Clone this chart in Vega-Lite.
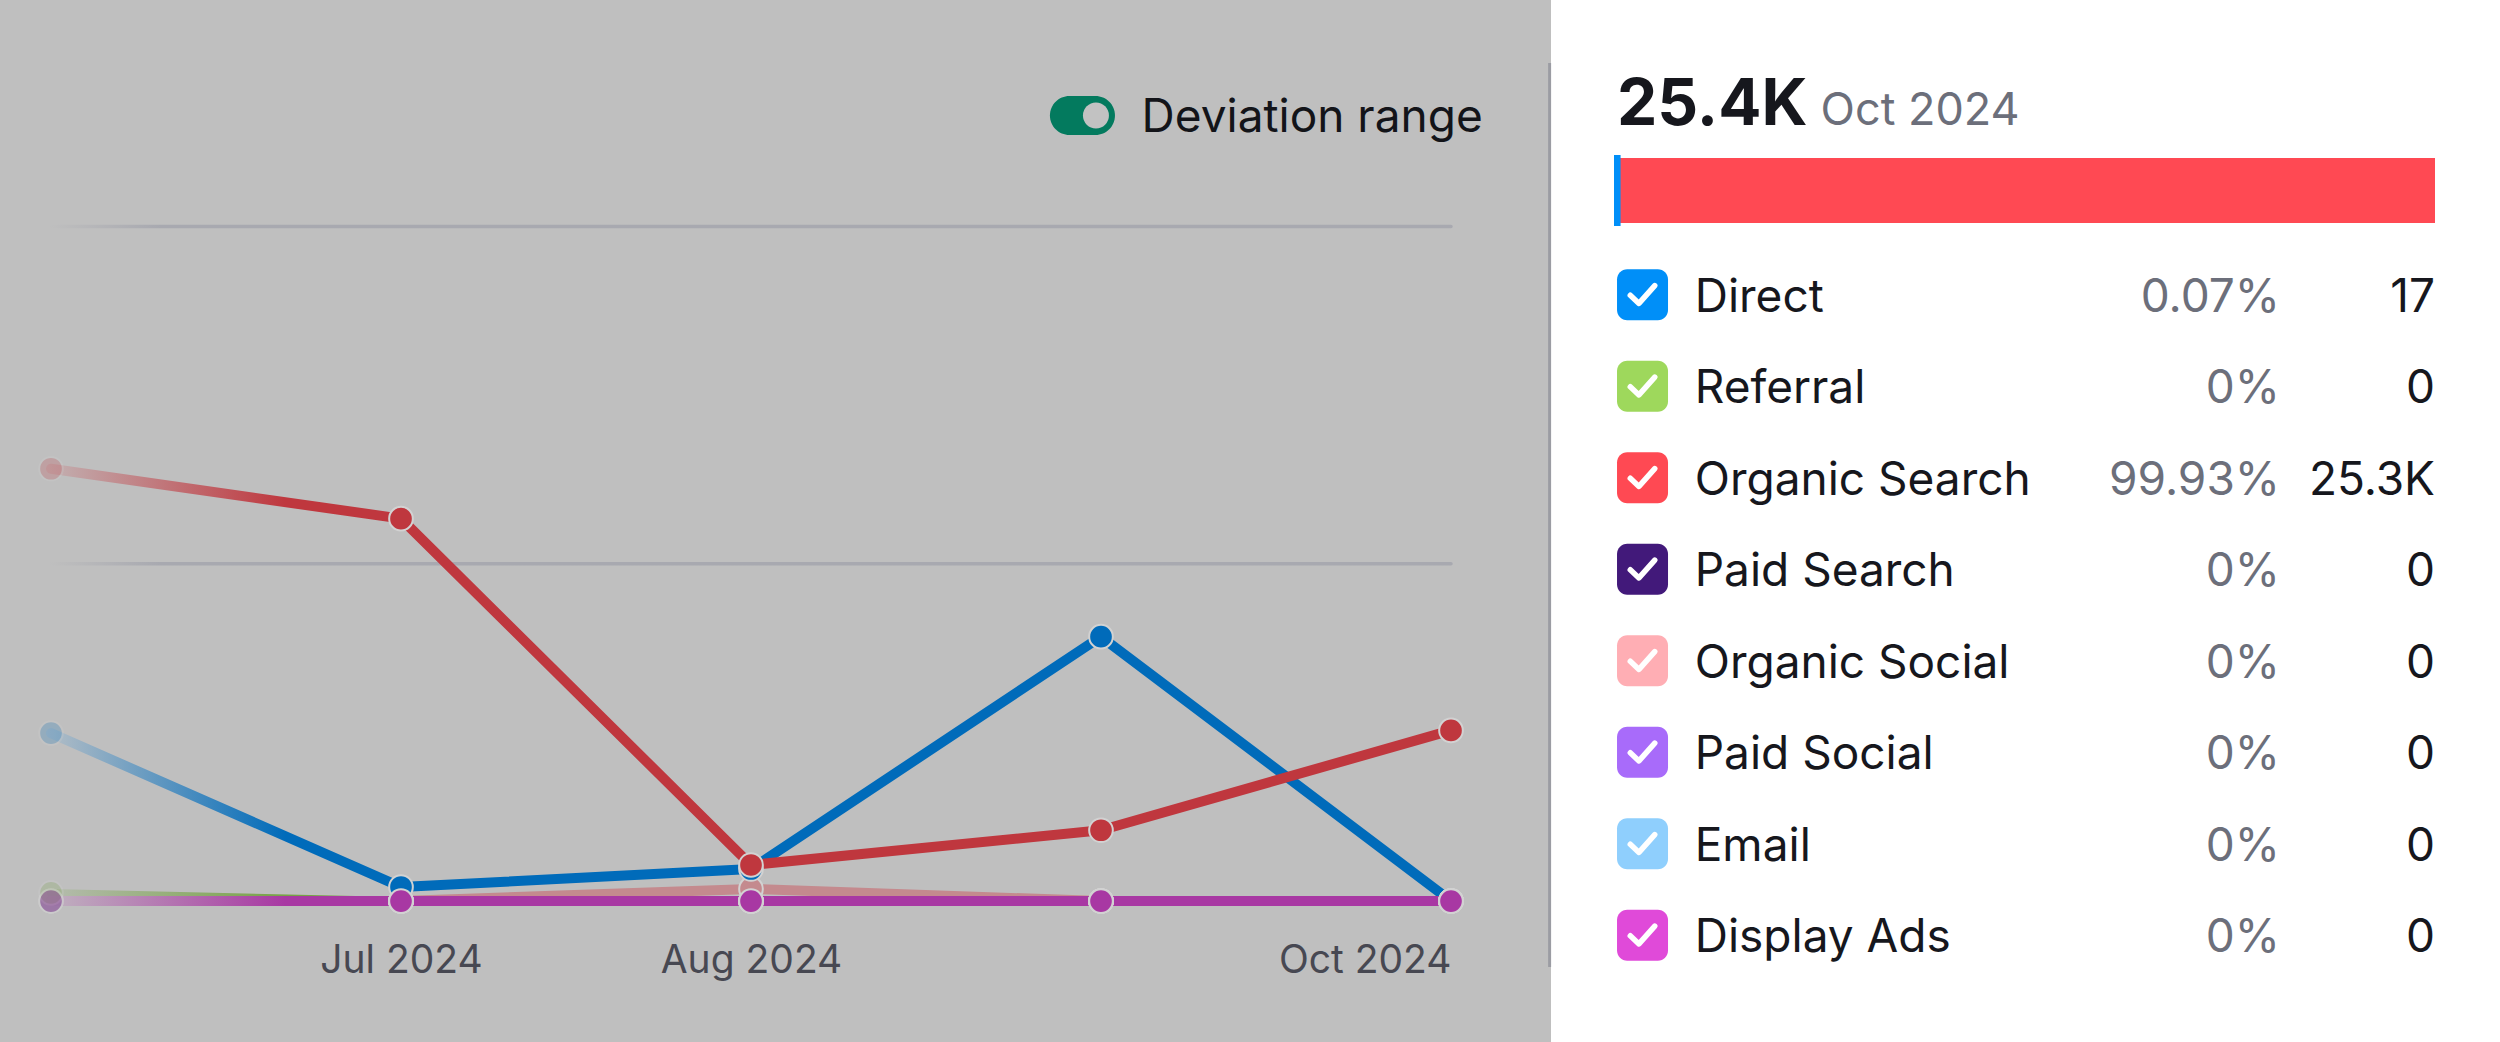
{
  "$schema": "https://vega.github.io/schema/vega-lite/v6.json",
  "background": "white",
  "padding": {"left": 0, "top": 0, "right": 65, "bottom": 0},
  "config": {"view": {"stroke": null}, "font": "Inter", "text": {"font": "Inter"}},
  "resolve": {"scale": {"fill": "independent", "color": "independent"}},
  "datasets": {
    "traffic": [
      {"month": "Jun 2024", "channel": "Paid Search", "value": 0},
      {"month": "Jul 2024", "channel": "Paid Search", "value": 0},
      {"month": "Aug 2024", "channel": "Paid Search", "value": 0},
      {"month": "Sep 2024", "channel": "Paid Search", "value": 0},
      {"month": "Oct 2024", "channel": "Paid Search", "value": 0},
      {"month": "Jun 2024", "channel": "Paid Social", "value": 0},
      {"month": "Jul 2024", "channel": "Paid Social", "value": 0},
      {"month": "Aug 2024", "channel": "Paid Social", "value": 0},
      {"month": "Sep 2024", "channel": "Paid Social", "value": 0},
      {"month": "Oct 2024", "channel": "Paid Social", "value": 0},
      {"month": "Jun 2024", "channel": "Email", "value": 0},
      {"month": "Jul 2024", "channel": "Email", "value": 0},
      {"month": "Aug 2024", "channel": "Email", "value": 0},
      {"month": "Sep 2024", "channel": "Email", "value": 0},
      {"month": "Oct 2024", "channel": "Email", "value": 0},
      {"month": "Jun 2024", "channel": "Referral", "value": 1200},
      {"month": "Jul 2024", "channel": "Referral", "value": 0},
      {"month": "Aug 2024", "channel": "Referral", "value": 0},
      {"month": "Sep 2024", "channel": "Referral", "value": 0},
      {"month": "Oct 2024", "channel": "Referral", "value": 0},
      {"month": "Jun 2024", "channel": "Organic Social", "value": 0},
      {"month": "Jul 2024", "channel": "Organic Social", "value": 0},
      {"month": "Aug 2024", "channel": "Organic Social", "value": 1800},
      {"month": "Sep 2024", "channel": "Organic Social", "value": 0},
      {"month": "Oct 2024", "channel": "Organic Social", "value": 0},
      {"month": "Jun 2024", "channel": "Direct", "value": 24900},
      {"month": "Jul 2024", "channel": "Direct", "value": 2080},
      {"month": "Aug 2024", "channel": "Direct", "value": 4750},
      {"month": "Sep 2024", "channel": "Direct", "value": 39200},
      {"month": "Oct 2024", "channel": "Direct", "value": 17},
      {"month": "Jun 2024", "channel": "Organic Search", "value": 64100},
      {"month": "Jul 2024", "channel": "Organic Search", "value": 56700},
      {"month": "Aug 2024", "channel": "Organic Search", "value": 5350},
      {"month": "Sep 2024", "channel": "Organic Search", "value": 10500},
      {"month": "Oct 2024", "channel": "Organic Search", "value": 25300},
      {"month": "Jun 2024", "channel": "Display Ads", "value": 0},
      {"month": "Jul 2024", "channel": "Display Ads", "value": 0},
      {"month": "Aug 2024", "channel": "Display Ads", "value": 0},
      {"month": "Sep 2024", "channel": "Display Ads", "value": 0},
      {"month": "Oct 2024", "channel": "Display Ads", "value": 0}
    ],
    "grid": [
      {"month": "Jun 2024", "value": 50000, "line": "50K"},
      {"month": "Oct 2024", "value": 50000, "line": "50K"},
      {"month": "Jun 2024", "value": 100000, "line": "100K"},
      {"month": "Oct 2024", "value": 100000, "line": "100K"}
    ],
    "share": [
      {"channel": "Direct", "share": 0.07, "pct": "0.07%", "count": "17"},
      {"channel": "Referral", "share": 0, "pct": "0%", "count": "0"},
      {"channel": "Organic Search", "share": 99.93, "pct": "99.93%", "count": "25.3K"},
      {"channel": "Paid Search", "share": 0, "pct": "0%", "count": "0"},
      {"channel": "Organic Social", "share": 0, "pct": "0%", "count": "0"},
      {"channel": "Paid Social", "share": 0, "pct": "0%", "count": "0"},
      {"channel": "Email", "share": 0, "pct": "0%", "count": "0"},
      {"channel": "Display Ads", "share": 0, "pct": "0%", "count": "0"}
    ],
    "summary": [{"total": "25.4K", "period": "Oct 2024"}],
    "ui": [{"label": "Deviation range"}]
  },
  "spacing": 66,
  "bounds": "flush",
  "hconcat": [
    {
      "width": 1551,
      "height": 1042,
      "view": {"fill": "#bfbfbf", "stroke": null},
      "resolve": {"scale": {"x": "independent", "y": "independent"}},
      "layer": [
        {
          "data": {"name": "traffic"},
          "encoding": {
            "x": {
              "field": "month", "type": "ordinal",
              "sort": ["Jun 2024", "Jul 2024", "Aug 2024", "Sep 2024", "Oct 2024"],
              "scale": {"type": "point", "padding": 0, "domain": ["Jun 2024", "Jul 2024", "Aug 2024", "Sep 2024", "Oct 2024"], "range": [51, 1451]},
              "axis": {
                "title": null, "domain": false, "ticks": false, "grid": false,
                "labelFont": "Inter", "labelFontSize": 39, "labelColor": "#474852",
                "labelBaseline": "alphabetic", "labelPadding": 0, "offset": -70, "labelLimit": 500,
                "labelOverlap": false, "labelBound": false, "labelFlush": false, "labelAngle": 0,
                "labelExpr": "datum.value === 'Jun 2024' || datum.value === 'Sep 2024' ? '' : datum.value",
                "labelAlign": {"condition": {"test": "datum.value === 'Oct 2024'", "value": "right"}, "value": "center"}
              }
            },
            "y": {
              "field": "value", "type": "quantitative",
              "scale": {"domain": [-20900, 133600], "nice": false, "zero": false},
              "axis": null
            }
          },
          "layer": [
            {
              "data": {"name": "grid"},
              "mark": {"type": "trail", "color": {"gradient": "linear", "x1": 0, "x2": 1, "y1": 0, "y2": 0, "stops": [{"offset": 0, "color": "#bfbfbf"}, {"offset": 0.08, "color": "#a8a9b0"}, {"offset": 1, "color": "#a8a9b0"}]}},
              "encoding": {"detail": {"field": "line", "type": "nominal"}, "size": {"value": 3.5}}
            },
            {
              "transform": [{"filter": "datum.channel === 'Paid Search'"}],
              "mark": {"type": "trail", "color": {"gradient": "linear", "x1": 0, "x2": 1, "y1": 0, "y2": 0, "stops": [{"offset": 0, "color": "#aeaab3"}, {"offset": 0.17, "color": "#32135c"}, {"offset": 1, "color": "#32135c"}]}},
              "encoding": {"size": {"value": 10}}
            },
            {
              "transform": [{"filter": "datum.channel === 'Paid Social'"}],
              "mark": {"type": "trail", "color": {"gradient": "linear", "x1": 0, "x2": 1, "y1": 0, "y2": 0, "stops": [{"offset": 0, "color": "#b7b2bf"}, {"offset": 0.17, "color": "#7e50bc"}, {"offset": 1, "color": "#7e50bc"}]}},
              "encoding": {"size": {"value": 10}}
            },
            {
              "transform": [{"filter": "datum.channel === 'Email'"}],
              "mark": {"type": "trail", "color": {"gradient": "linear", "x1": 0, "x2": 1, "y1": 0, "y2": 0, "stops": [{"offset": 0, "color": "#b5bbbf"}, {"offset": 0.17, "color": "#6b9bbe"}, {"offset": 1, "color": "#6b9bbe"}]}},
              "encoding": {"size": {"value": 10}}
            },
            {
              "transform": [{"filter": "datum.channel === 'Referral'"}],
              "mark": {"type": "trail", "color": {"gradient": "linear", "x1": 0, "x2": 1, "y1": 0, "y2": 0, "stops": [{"offset": 0, "color": "#b6bcb0"}, {"offset": 0.17, "color": "#77a245"}, {"offset": 1, "color": "#77a245"}]}},
              "encoding": {"size": {"value": 8}}
            },
            {
              "transform": [{"filter": "datum.channel === 'Organic Social'"}],
              "mark": {"type": "trail", "color": {"gradient": "linear", "x1": 0, "x2": 1, "y1": 0, "y2": 0, "stops": [{"offset": 0, "color": "#bfb8b8"}, {"offset": 0.17, "color": "#c48a8e"}, {"offset": 1, "color": "#c48a8e"}]}},
              "encoding": {"size": {"value": 10}}
            },
            {
              "transform": [{"filter": "datum.channel === 'Direct'"}],
              "mark": {"type": "trail", "color": {"gradient": "linear", "x1": 0, "x2": 1, "y1": 0, "y2": 0, "stops": [{"offset": 0, "color": "#b4bec6"}, {"offset": 0.17, "color": "#006bba"}, {"offset": 1, "color": "#006bba"}]}},
              "encoding": {"size": {"value": 10}}
            },
            {
              "transform": [{"filter": "datum.channel === 'Organic Search'"}],
              "mark": {"type": "trail", "color": {"gradient": "linear", "x1": 0, "x2": 1, "y1": 0, "y2": 0, "stops": [{"offset": 0, "color": "#c2b2b3"}, {"offset": 0.17, "color": "#bf373e"}, {"offset": 1, "color": "#bf373e"}]}},
              "encoding": {"size": {"value": 10}}
            },
            {
              "transform": [{"filter": "datum.channel === 'Display Ads'"}],
              "mark": {"type": "trail", "color": {"gradient": "linear", "x1": 0, "x2": 1, "y1": 0, "y2": 0, "stops": [{"offset": 0, "color": "#c0b4c0"}, {"offset": 0.17, "color": "#a838a3"}, {"offset": 1, "color": "#a838a3"}]}},
              "encoding": {"size": {"value": 10}}
            },
            {
              "mark": {"type": "point", "filled": true, "size": 560, "stroke": "#d2d2d2", "strokeWidth": 2},
              "encoding": {
                "fill": {
                  "field": "channel", "type": "nominal",
                  "scale": {
                    "domain": ["Direct", "Referral", "Organic Search", "Paid Search", "Organic Social", "Paid Social", "Email", "Display Ads"],
                    "range": ["#006bba", "#77a245", "#bf373e", "#32135c", "#c48a8e", "#7e50bc", "#6b9bbe", "#a838a3"]
                  },
                  "legend": null
                },
                "opacity": {"condition": {"test": "datum.month === 'Jun 2024'", "value": 0.22}, "value": 1}
              }
            }
          ]
        },
        {
          "data": {"name": "ui"},
          "layer": [
            {
              "mark": {"type": "rule", "color": "#9b9ca3", "strokeWidth": 3},
              "encoding": {
                "x": {"datum": 0.9991, "type": "quantitative", "scale": {"domain": [0, 1]}, "axis": null},
                "y": {"datum": 0.0605, "type": "quantitative", "scale": {"domain": [0, 1], "reverse": true}, "axis": null},
                "y2": {"datum": 0.928}
              }
            },
            {
              "mark": {"type": "point", "filled": true, "opacity": 1, "color": "#037a5e", "size": 1521, "shape": "M -0.667 -1 L 0.667 -1 A 1 1 0 0 1 0.667 1 L -0.667 1 A 1 1 0 0 1 -0.667 -1 Z"},
              "encoding": {
                "x": {"datum": 0.6979, "type": "quantitative", "scale": {"domain": [0, 1]}, "axis": null},
                "y": {"datum": 0.1108, "type": "quantitative", "scale": {"domain": [0, 1], "reverse": true}, "axis": null}
              }
            },
            {
              "mark": {"type": "point", "filled": true, "opacity": 1, "color": "#c2c2c2", "size": 676, "shape": "circle"},
              "encoding": {
                "x": {"datum": 0.7066, "type": "quantitative", "scale": {"domain": [0, 1]}, "axis": null},
                "y": {"datum": 0.1108, "type": "quantitative", "scale": {"domain": [0, 1], "reverse": true}, "axis": null}
              }
            },
            {
              "mark": {"type": "text", "align": "left", "baseline": "alphabetic", "fontSize": 46, "color": "#131419", "font": "Inter"},
              "encoding": {
                "text": {"field": "label"},
                "x": {"datum": 0.736, "type": "quantitative", "scale": {"domain": [0, 1]}, "axis": null},
                "y": {"datum": 0.1267, "type": "quantitative", "scale": {"domain": [0, 1], "reverse": true}, "axis": null}
              }
            }
          ]
        }
      ]
    },
    {
      "spacing": 26,
      "bounds": "flush",
      "vconcat": [
        {
          "width": 818,
          "height": 132,
          "data": {"name": "summary"},
          "encoding": {
            "y": {"datum": 0, "type": "quantitative", "scale": {"domain": [0, 1]}, "axis": null}
          },
          "layer": [
            {
              "mark": {"type": "text", "align": "left", "baseline": "alphabetic", "dy": -7, "fontSize": 64, "fontWeight": 700, "color": "#16171d", "font": "Inter"},
              "encoding": {
                "x": {"datum": 0, "type": "quantitative", "scale": {"domain": [0, 1]}, "axis": null},
                "text": {"field": "total"}
              }
            },
            {
              "mark": {"type": "text", "align": "left", "baseline": "alphabetic", "dy": -7, "fontSize": 45, "color": "#6c6f7b", "font": "Inter"},
              "encoding": {
                "x": {"datum": 0.2488, "type": "quantitative", "scale": {"domain": [0, 1]}, "axis": null},
                "text": {"field": "period"}
              }
            }
          ]
        },
        {
          "width": 818,
          "height": 65,
          "data": {"name": "share"},
          "transform": [
            {"filter": "datum.share > 0"},
            {"stack": "share", "groupby": [], "sort": [{"field": "share", "order": "ascending"}], "as": ["s0", "s1"]}
          ],
          "encoding": {
            "x": {"field": "s0", "type": "quantitative", "scale": {"domain": [0, 100], "nice": false, "zero": false}, "axis": null},
            "x2": {"field": "s1"},
            "y": {"datum": 0, "type": "quantitative", "scale": {"domain": [0, 1]}, "axis": null},
            "y2": {"datum": 1}
          },
          "layer": [
            {
              "mark": {"type": "rect"},
              "encoding": {
                "color": {
                  "field": "channel", "type": "nominal",
                  "scale": {
                    "domain": ["Direct", "Referral", "Organic Search", "Paid Search", "Organic Social", "Paid Social", "Email", "Display Ads"],
                    "range": ["#008ff8", "#9ed85c", "#ff4953", "#42197a", "#ffaeb4", "#a86bfa", "#8fcffd", "#e04ad9"]
                  },
                  "legend": null
                }
              }
            },
            {
              "transform": [{"filter": "datum.channel === 'Direct'"}],
              "mark": {"type": "rect", "color": "#008ff8", "stroke": "#008ff8", "strokeWidth": 6}
            }
          ]
        },
        {
          "width": 818,
          "height": 732,
          "data": {"name": "share"},
          "encoding": {
            "y": {
              "field": "channel", "type": "nominal", "sort": null,
              "scale": {"type": "point", "padding": 0.5, "domain": ["Direct", "Referral", "Organic Search", "Paid Search", "Organic Social", "Paid Social", "Email", "Display Ads"]},
              "axis": null
            }
          },
          "layer": [
            {
              "mark": {"type": "point", "filled": true, "opacity": 1, "size": 2601, "shape": "M -0.6 -1 L 0.6 -1 A 0.4 0.4 0 0 1 1 -0.6 L 1 0.6 A 0.4 0.4 0 0 1 0.6 1 L -0.6 1 A 0.4 0.4 0 0 1 -1 0.6 L -1 -0.6 A 0.4 0.4 0 0 1 -0.6 -1 Z"},
              "encoding": {
                "x": {"datum": 0.0312, "type": "quantitative", "scale": {"domain": [0, 1]}, "axis": null},
                "color": {
                  "field": "channel", "type": "nominal",
                  "scale": {
                    "domain": ["Direct", "Referral", "Organic Search", "Paid Search", "Organic Social", "Paid Social", "Email", "Display Ads"],
                    "range": ["#008ff8", "#9ed85c", "#ff4953", "#42197a", "#ffaeb4", "#a86bfa", "#8fcffd", "#e04ad9"]
                  },
                  "legend": null
                }
              }
            },
            {
              "mark": {"type": "point", "filled": false, "opacity": 1, "color": "white", "stroke": "white", "strokeWidth": 5.5, "strokeCap": "round", "strokeJoin": "round", "size": 2601, "shape": "M -0.48 0.02 L -0.14 0.34 L 0.48 -0.36"},
              "encoding": {
                "x": {"datum": 0.0312, "type": "quantitative", "scale": {"domain": [0, 1]}, "axis": null}
              }
            },
            {
              "mark": {"type": "text", "align": "left", "baseline": "alphabetic", "dy": 17, "fontSize": 46, "color": "#16171d", "font": "Inter"},
              "encoding": {
                "x": {"datum": 0.095, "type": "quantitative", "scale": {"domain": [0, 1]}, "axis": null},
                "text": {"field": "channel"}
              }
            },
            {
              "mark": {"type": "text", "align": "right", "baseline": "alphabetic", "dy": 17, "fontSize": 46, "color": "#6c6f7b", "font": "Inter"},
              "encoding": {
                "x": {"datum": 0.8105, "type": "quantitative", "scale": {"domain": [0, 1]}, "axis": null},
                "text": {"field": "pct"}
              }
            },
            {
              "mark": {"type": "text", "align": "right", "baseline": "alphabetic", "dy": 17, "fontSize": 46, "color": "#16171d", "font": "Inter"},
              "encoding": {
                "x": {"datum": 1, "type": "quantitative", "scale": {"domain": [0, 1]}, "axis": null},
                "text": {"field": "count"}
              }
            }
          ]
        }
      ]
    }
  ]
}
